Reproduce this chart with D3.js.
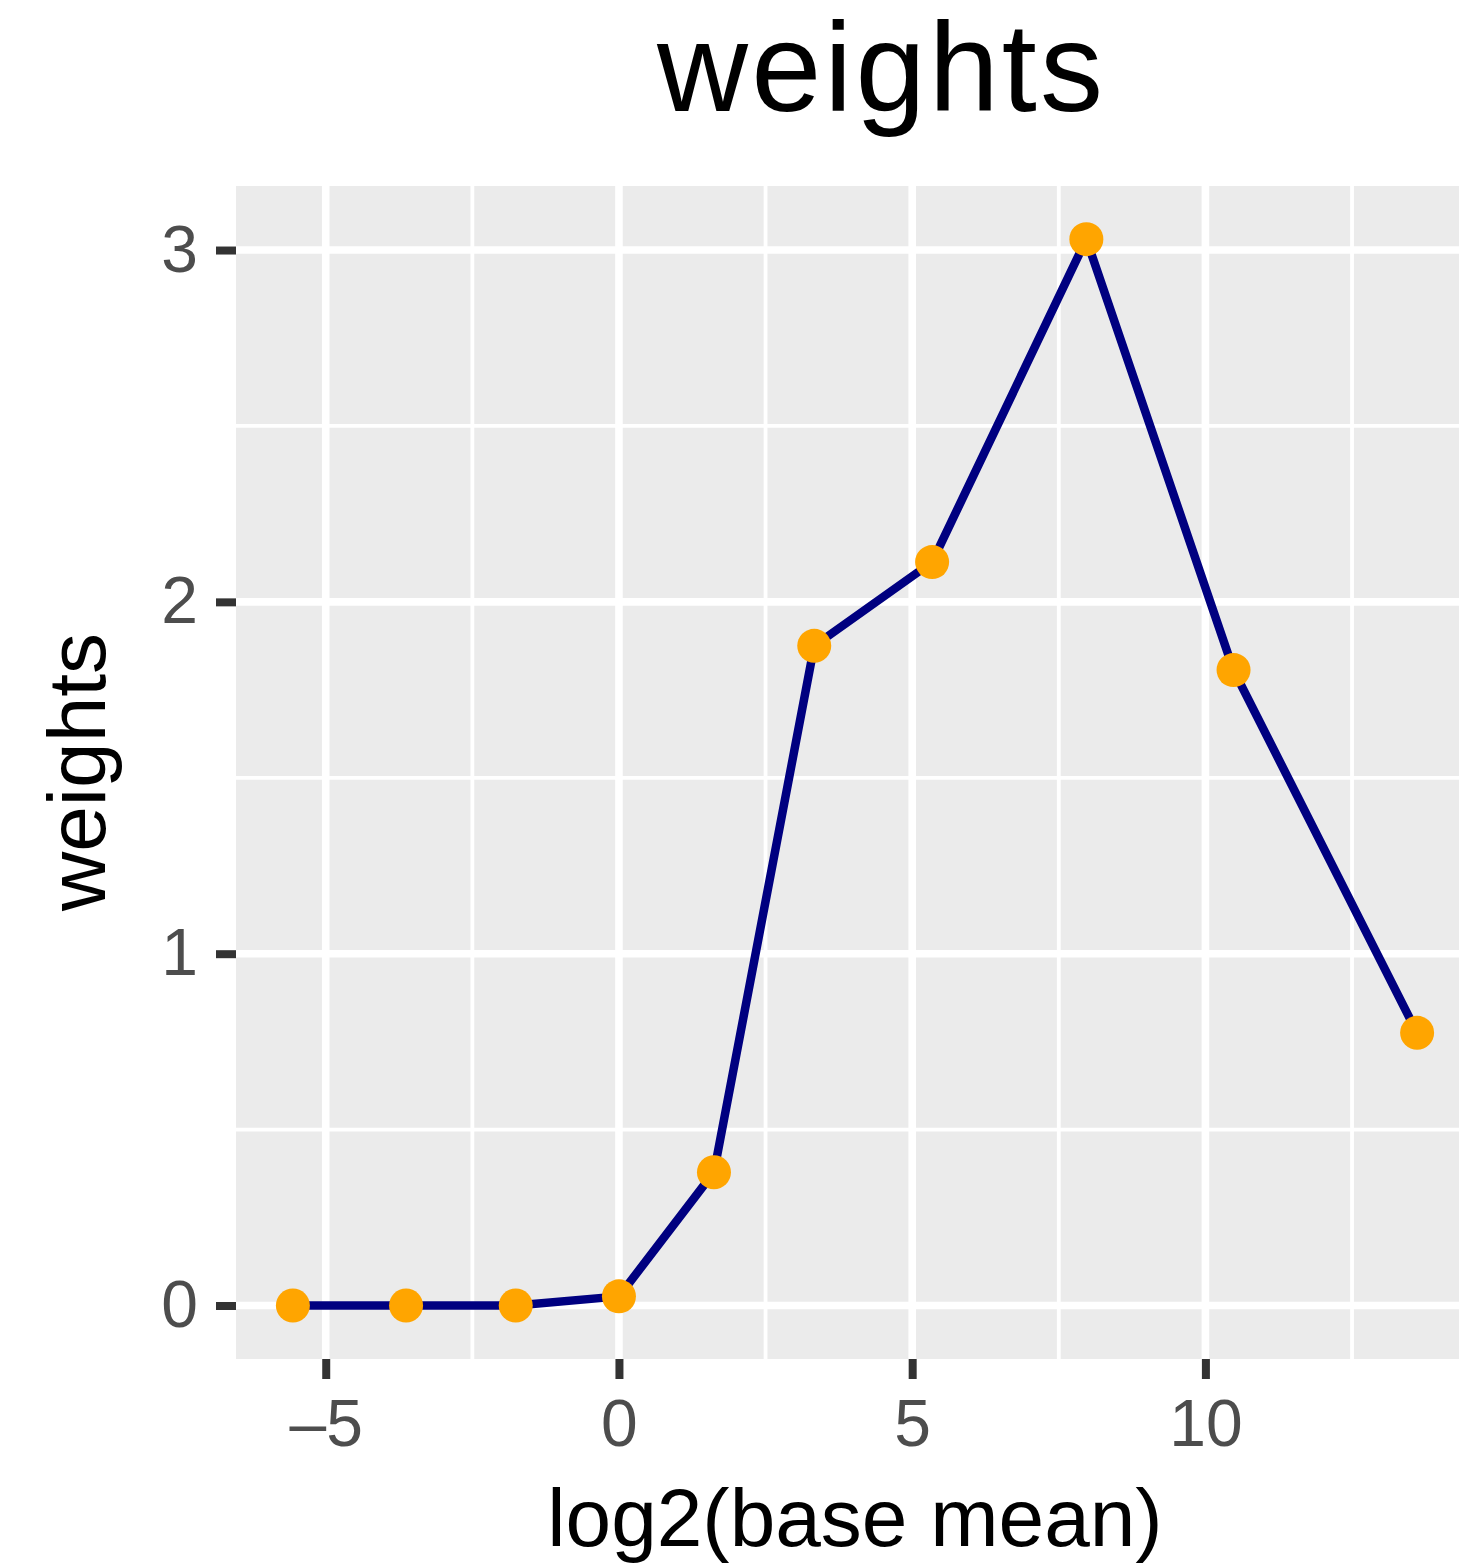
<!DOCTYPE html>
<html>
<head>
<meta charset="utf-8">
<script src="https://cdn.jsdelivr.net/npm/d3@7"></script>
<style>
  html, body { margin: 0; padding: 0; background: #ffffff; }
  svg { display: block; }
  text { font-family: "Liberation Sans", Arial, Helvetica, sans-serif; }
</style>
</head>
<body>
<svg id="chart" width="1459" height="1564"></svg>
<script>
// Binned weights against log2 of the base mean
const log2BaseMean = [-5.56, -3.63, -1.76, 0.0, 1.62, 3.33, 5.34, 7.97, 10.48, 13.61];
const weights      = [0.0, 0.0, 0.0, 0.026, 0.379, 1.875, 2.113, 3.031, 1.806, 0.775];

const xTicks = [-5, 0, 5, 10];
const xMinor = [-2.5, 2.5, 7.5, 12.5];
const yTicks = [0, 1, 2, 3];
const yMinor = [0.5, 1.5, 2.5];

const titleText = "weights";
const xTitle = "log2(base mean)";
const yTitle = "weights";

const svg = d3.select("#chart");

const panel = { left: 236, right: 1474, top: 186, bottom: 1359 };

const x = d3.scaleLinear().domain([-6.53, 14.58]).range([panel.left, panel.right]);
const y = d3.scaleLinear().domain([-0.152, 3.182]).range([panel.bottom, panel.top]);

// panel background
svg.append("rect")
  .attr("x", panel.left).attr("y", panel.top)
  .attr("width", panel.right - panel.left).attr("height", panel.bottom - panel.top)
  .attr("fill", "#ebebeb");

const grid = svg.append("g");
// minor grid
grid.selectAll(".vmin").data(xMinor).join("line")
  .attr("x1", d => x(d)).attr("x2", d => x(d))
  .attr("y1", panel.top).attr("y2", panel.bottom)
  .attr("stroke", "#ffffff").attr("stroke-width", 3.8);
grid.selectAll(".hmin").data(yMinor).join("line")
  .attr("y1", d => y(d)).attr("y2", d => y(d))
  .attr("x1", panel.left).attr("x2", panel.right)
  .attr("stroke", "#ffffff").attr("stroke-width", 3.8);
// major grid
grid.selectAll(".vmaj").data(xTicks).join("line")
  .attr("x1", d => x(d)).attr("x2", d => x(d))
  .attr("y1", panel.top).attr("y2", panel.bottom)
  .attr("stroke", "#ffffff").attr("stroke-width", 7.6);
grid.selectAll(".hmaj").data(yTicks).join("line")
  .attr("y1", d => y(d)).attr("y2", d => y(d))
  .attr("x1", panel.left).attr("x2", panel.right)
  .attr("stroke", "#ffffff").attr("stroke-width", 7.6);

// axes
const xAxis = d3.axisBottom(x).tickValues(xTicks).tickSize(20).tickPadding(20)
  .tickFormat(d => d < 0 ? "\u2013" + Math.abs(d) : String(d));
const gx = svg.append("g").attr("transform", `translate(0,${panel.bottom})`).call(xAxis);
gx.select(".domain").remove();
gx.selectAll(".tick line").attr("stroke", "#333333").attr("stroke-width", 8);
gx.selectAll(".tick text").attr("fill", "#4d4d4d").attr("font-size", 66)
  .attr("font-family", "'Liberation Sans', Arial, Helvetica, sans-serif");

const yAxis = d3.axisLeft(y).tickValues(yTicks).tickSize(20).tickPadding(18)
  .tickFormat(d3.format("d"));
const gy = svg.append("g").attr("transform", `translate(${panel.left},0)`).call(yAxis);
gy.select(".domain").remove();
gy.selectAll(".tick line").attr("stroke", "#333333").attr("stroke-width", 8);
gy.selectAll(".tick text").attr("fill", "#4d4d4d").attr("font-size", 66)
  .attr("font-family", "'Liberation Sans', Arial, Helvetica, sans-serif");

// series
const pts = log2BaseMean.map((v, i) => ({ x: v, y: weights[i] }));
const line = d3.line().x(d => x(d.x)).y(d => y(d.y));
svg.append("path").datum(pts)
  .attr("d", line)
  .attr("fill", "none")
  .attr("stroke", "#000080")
  .attr("stroke-width", 8.5)
  .attr("stroke-linejoin", "round");
svg.append("g").selectAll("circle").data(pts).join("circle")
  .attr("cx", d => x(d.x)).attr("cy", d => y(d.y))
  .attr("r", 17).attr("fill", "#ffa500");

// titles
svg.append("text")
  .attr("x", 880).attr("y", 111)
  .attr("text-anchor", "middle")
  .attr("font-size", 126)
  .attr("textLength", 446)
  .attr("lengthAdjust", "spacing")
  .attr("fill", "#000000")
  .text(titleText);

svg.append("text")
  .attr("x", 855).attr("y", 1546)
  .attr("text-anchor", "middle")
  .attr("font-size", 82)
  .attr("fill", "#000000")
  .text(xTitle);

svg.append("text")
  .attr("transform", "translate(105,772) rotate(-90)")
  .attr("text-anchor", "middle")
  .attr("font-size", 82)
  .attr("fill", "#000000")
  .text(yTitle);
</script>
</body>
</html>
